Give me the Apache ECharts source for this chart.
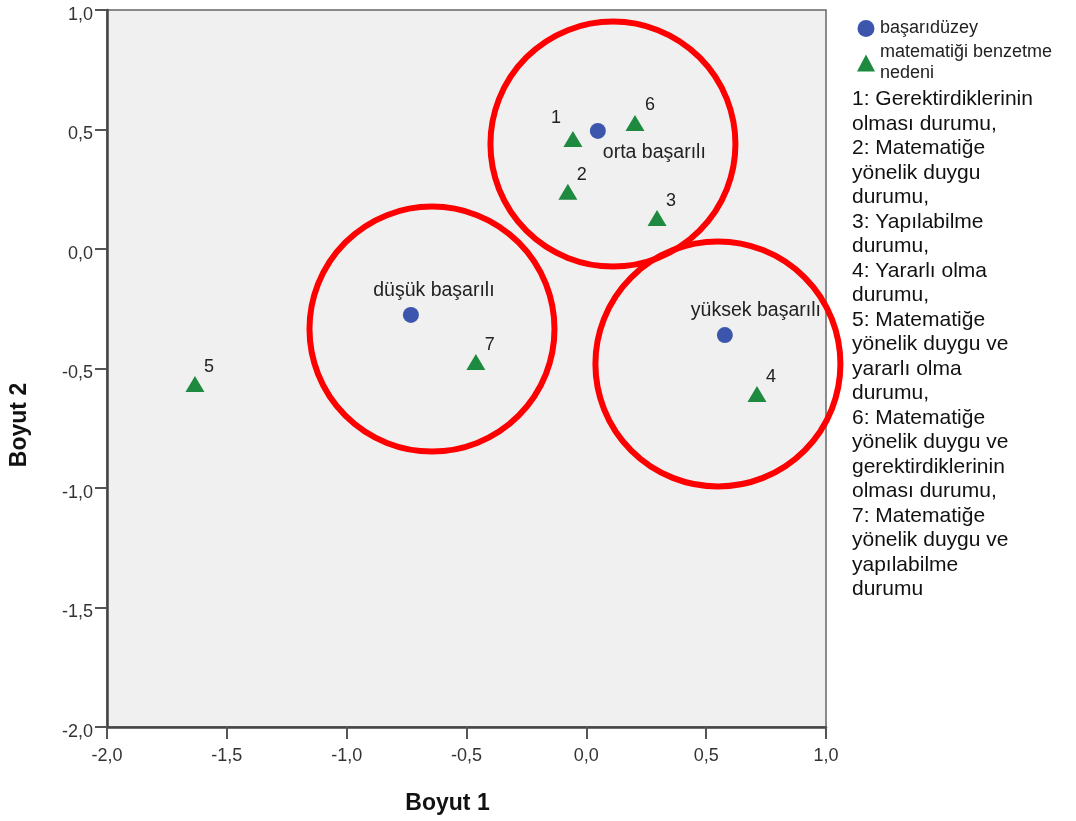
<!DOCTYPE html>
<html><head><meta charset="utf-8">
<script src="https://cdn.jsdelivr.net/npm/echarts@6/dist/echarts.min.js"></script>
<style>html,body{margin:0;padding:0;background:#fff}#c{width:1076px;height:821px}</style>
</head><body><div id="c"></div>
<script>
const groupNames = ['orta başarılı', 'düşük başarılı', 'yüksek başarılı'];
const groupX = [0.048, -0.732, 0.578];
const groupY = [0.494, -0.276, -0.36];
const reasonLabels = ['1', '2', '3', '4', '5', '6', '7'];
const reasonX = [-0.056, -0.077, 0.295, 0.712, -1.633, 0.203, -0.461];
const reasonY = [0.46, 0.24, 0.13, -0.607, -0.565, 0.527, -0.473];
const ringX = [0.111, -0.644, 0.549];
const ringY = [0.439, -0.335, -0.481];
const xTicks = [-2.0, -1.5, -1.0, -0.5, 0.0, 0.5, 1.0];
const yTicks = [-2.0, -1.5, -1.0, -0.5, 0.0, 0.5, 1.0];
const notes = ['1: Gerektirdiklerinin', 'olması durumu,', '2: Matematiğe', 'yönelik duygu', 'durumu,', '3: Yapılabilme', 'durumu,', '4: Yararlı olma', 'durumu,', '5: Matematiğe', 'yönelik duygu ve', 'yararlı olma', 'durumu,', '6: Matematiğe', 'yönelik duygu ve', 'gerektirdiklerinin', 'olması durumu,', '7: Matematiğe', 'yönelik duygu ve', 'yapılabilme', 'durumu'];

const FONT = 'Liberation Sans, Arial, sans-serif';
const fmt = v => v.toFixed(1).replace('.', ',');
const chart = echarts.init(document.getElementById('c'), null, {renderer: 'canvas'});
const groupLabelCfg = [
  {position: 'right', distance: 0, offset: [-3, 22]},
  {position: 'top', distance: 6, offset: [23, 0]},
  {position: 'top', distance: 6, offset: [31, 0]}
];
const reasonLabelOffset = [[-17, -21], [14, -17], [14, -17], [14, -17], [14, -17], [15, -18], [14, -17]];
chart.setOption({
  animation: false,
  backgroundColor: '#ffffff',
  grid: {left: 107, right: 250, top: 10, bottom: 94, show: true, backgroundColor: '#f0f0f0', borderColor: '#666', borderWidth: 1.5},
  xAxis: {
    type: 'value', min: -2, max: 1, interval: 0.5,
    name: 'Boyut 1', nameLocation: 'middle', nameGap: 65,
    nameTextStyle: {fontFamily: FONT, fontSize: 23, fontWeight: 'bold', color: '#111', padding: [0, 38, 0, 0]},
    axisLine: {show: true, onZero: false, lineStyle: {color: '#444', width: 2.5}},
    axisTick: {show: true, length: 12, lineStyle: {color: '#555', width: 2}},
    axisLabel: {fontFamily: FONT, fontSize: 18, color: '#333', margin: 20, formatter: fmt},
    splitLine: {show: false}
  },
  yAxis: {
    type: 'value', min: -2, max: 1, interval: 0.5,
    name: 'Boyut 2', nameLocation: 'middle', nameGap: 76,
    nameTextStyle: {fontFamily: FONT, fontSize: 23, fontWeight: 'bold', color: '#111', padding: [0, 113, 0, 0]},
    axisLine: {show: true, onZero: false, lineStyle: {color: '#444', width: 2.5}},
    axisTick: {show: true, length: 12, lineStyle: {color: '#555', width: 2}},
    axisLabel: {fontFamily: FONT, fontSize: 18, color: '#333', margin: 14,
      formatter: v => '{t|' + fmt(v) + '}',
      rich: {t: {fontFamily: FONT, fontSize: 18, color: '#333', padding: [10, 0, 0, 0]}}},
    splitLine: {show: false}
  },
  legend: {
    orient: 'vertical', left: 852, top: 13, itemWidth: 18, itemHeight: 17, itemGap: 3,
    data: ['başarıdüzey', 'matematiği benzetme nedeni'],
    formatter: n => n === 'matematiği benzetme nedeni' ? 'matematiği benzetme\nnedeni' : n,
    textStyle: {fontFamily: FONT, fontSize: 18, color: '#222', lineHeight: 21}
  },
  series: [
    {
      name: 'başarıdüzey', type: 'scatter', symbol: 'circle', symbolSize: 16,
      itemStyle: {color: '#3d56ad', opacity: 1},
      data: groupNames.map((n, i) => ({value: [groupX[i], groupY[i]], name: n,
        label: Object.assign({show: true}, groupLabelCfg[i])})),
      label: {formatter: p => p.name, fontFamily: FONT, fontSize: 19.5, color: '#222'},
      z: 3
    },
    {
      name: 'matematiği benzetme nedeni', type: 'scatter', symbol: 'triangle', symbolSize: [19, 16],
      itemStyle: {color: '#1d8a3f', opacity: 1},
      data: reasonLabels.map((n, i) => ({value: [reasonX[i], reasonY[i]], name: n,
        label: {show: true, position: 'inside', offset: reasonLabelOffset[i]}})),
      label: {formatter: p => p.name, fontFamily: FONT, fontSize: 18, color: '#222'},
      z: 3
    },
    {
      name: 'rings', type: 'scatter', symbol: 'circle', symbolSize: 245, clip: false,
      itemStyle: {color: 'transparent', borderColor: '#ff0000', borderWidth: 6, opacity: 1},
      data: ringX.map((x, i) => [x, ringY[i]]),
      silent: true, z: 5
    }
  ],
  graphic: [{
    type: 'text', left: 852, top: 87,
    style: {text: notes.join('\n'), font: '21px ' + FONT, fill: '#111', lineHeight: 24.5}
  }]
});
</script></body></html>
